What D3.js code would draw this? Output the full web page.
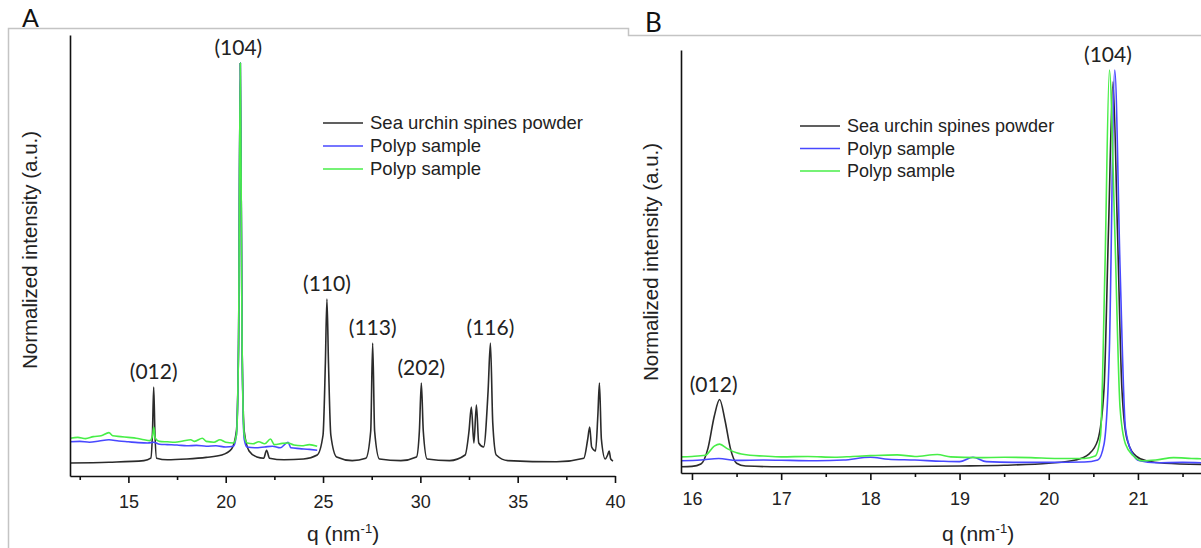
<!DOCTYPE html>
<html>
<head>
<meta charset="utf-8">
<script src="https://cdn.jsdelivr.net/npm/d3@7/dist/d3.min.js"></script>
<style>
  body { margin: 0; background: #fff; }
  svg { display: block; }
  .tick text { font-family: "Liberation Sans", Arial, sans-serif; font-size: 18px; fill: #222; }
</style>
</head>
<body>
<div id="chart"></div>
<script>
// ---- data (q in nm^-1, intensity normalised to the (104) peak) ----
const seriesNames = ['Sea urchin spines powder', 'Polyp sample', 'Polyp sample'];
const seriesColors = ['#2b2b2b', '#4848ff', '#48ee48'];

// panel A : wide range
const blackA = [
  [12.0,0.0],[14.0,0.002],[15.8,0.006],[16.15,0.012],[16.24,0.08],[16.3,0.19],[16.36,0.08],[16.45,0.012],
  [17.0,0.008],[18.0,0.01],[19.0,0.014],[19.8,0.02],[20.3,0.035],[20.55,0.08],[20.66,0.3],[20.75,1.0],
  [20.84,0.3],[20.95,0.08],[21.2,0.03],[21.6,0.015],[21.95,0.012],[22.1,0.032],[22.25,0.012],[23.0,0.008],
  [24.0,0.01],[24.7,0.02],[25.0,0.07],[25.12,0.25],[25.2,0.41],[25.28,0.25],[25.4,0.07],[25.7,0.015],
  [26.5,0.006],[27.2,0.012],[27.45,0.08],[27.55,0.30],[27.65,0.08],[27.9,0.01],[29.0,0.006],[29.8,0.015],
  [29.95,0.08],[30.05,0.20],[30.15,0.08],[30.35,0.01],[31.5,0.006],[32.3,0.02],[32.5,0.08],[32.62,0.14],
  [32.75,0.05],[32.88,0.145],[33.0,0.05],[33.25,0.04],[33.48,0.18],[33.6,0.30],[33.72,0.1],[33.9,0.02],
  [34.5,0.006],[37.0,0.003],[38.4,0.012],[38.6,0.06],[38.7,0.09],[38.8,0.04],[39.0,0.03],[39.12,0.12],
  [39.2,0.20],[39.3,0.06],[39.5,0.01],[39.62,0.02],[39.7,0.03],[39.78,0.01],[39.9,0.005]
];
const blueA = [
  [12.0,0.053],[12.5,0.054],[13.0,0.052],[13.5,0.055],[14.0,0.058],[14.5,0.055],[15.0,0.053],[15.5,0.051],
  [16.0,0.05],[16.3,0.052],[16.6,0.047],[17.0,0.046],[17.5,0.045],[18.0,0.043],[18.5,0.044],[19.0,0.042],
  [19.5,0.043],[20.0,0.04],[20.4,0.042],[20.55,0.07],[20.66,0.3],[20.75,1.0],[20.84,0.3],[20.95,0.06],
  [21.1,0.04],[21.5,0.038],[22.0,0.04],[22.4,0.042],[22.8,0.038],[23.2,0.052],[23.35,0.038],[23.8,0.036],
  [24.3,0.034],[24.7,0.032]
];
const greenA = [
  [12.0,0.062],[12.4,0.064],[12.8,0.061],[13.2,0.066],[13.6,0.068],[14.0,0.076],[14.2,0.068],[14.6,0.066],
  [15.0,0.064],[15.4,0.062],[15.8,0.058],[16.1,0.056],[16.25,0.07],[16.3,0.09],[16.38,0.062],[16.6,0.054],
  [17.0,0.053],[17.4,0.052],[17.8,0.055],[18.2,0.058],[18.4,0.054],[18.8,0.062],[19.0,0.054],[19.4,0.052],
  [19.7,0.058],[20.0,0.052],[20.4,0.05],[20.55,0.07],[20.66,0.3],[20.75,1.0],[20.84,0.3],[20.95,0.07],
  [21.1,0.05],[21.4,0.048],[21.7,0.053],[22.0,0.048],[22.3,0.06],[22.5,0.046],[22.9,0.049],[23.2,0.05],
  [23.5,0.045],[23.9,0.043],[24.3,0.046],[24.7,0.042]
];

// panel B : zoom on (012) and (104)
const blackB = [
  [15.88,0.003],[16.0,0.004],[16.1,0.01],[16.18,0.05],[16.25,0.13],[16.31,0.172],[16.37,0.12],[16.43,0.05],
  [16.5,0.012],[16.6,0.005],[17.0,0.003],[18.0,0.003],[19.0,0.005],[19.5,0.007],[20.0,0.012],[20.3,0.02],
  [20.45,0.035],[20.55,0.07],[20.62,0.2],[20.67,0.6],[20.72,0.97],[20.77,0.6],[20.82,0.2],[20.88,0.07],
  [20.98,0.03],[21.1,0.018],[21.3,0.012],[21.71,0.009]
];
const blueB = [
  [15.88,0.018],[16.1,0.02],[16.3,0.024],[16.5,0.019],[16.8,0.02],[17.1,0.019],[17.4,0.018],[17.7,0.02],
  [18.0,0.027],[18.2,0.022],[18.5,0.02],[18.8,0.017],[19.0,0.016],[19.15,0.027],[19.3,0.016],[19.6,0.014],
  [20.0,0.014],[20.4,0.015],[20.55,0.02],[20.62,0.06],[20.68,0.3],[20.74,1.0],[20.8,0.5],[20.86,0.1],
  [20.93,0.04],[21.02,0.018],[21.2,0.013],[21.5,0.014],[21.71,0.013]
];
const greenB = [
  [15.88,0.028],[16.0,0.029],[16.15,0.032],[16.25,0.055],[16.31,0.06],[16.4,0.048],[16.5,0.038],[16.65,0.032],
  [16.8,0.03],[17.0,0.028],[17.3,0.029],[17.6,0.027],[17.8,0.029],[18.0,0.031],[18.3,0.033],[18.5,0.029],
  [18.75,0.034],[18.9,0.028],[19.2,0.026],[19.5,0.027],[19.8,0.026],[20.1,0.024],[20.4,0.024],[20.52,0.03],
  [20.58,0.08],[20.63,0.5],[20.68,1.0],[20.74,0.6],[20.8,0.15],[20.86,0.06],[20.95,0.03],[21.05,0.018],
  [21.2,0.02],[21.4,0.026],[21.6,0.024],[21.71,0.023]
];

// peak labels: [text, q, intensity of the peak]
const peaksA = [['(012)',16.3,0.19],['(104)',20.75,1.0],['(110)',25.2,0.41],['(113)',27.55,0.30],['(202)',30.05,0.20],['(116)',33.6,0.30]];
const peaksB = [['(012)',16.31,0.172],['(104)',20.72,1.0]];

const ticksA = [15, 20, 25, 30, 35, 40];
const minorA = [12.5, 17.5, 22.5, 27.5, 32.5, 37.5];
const ticksB = [16, 17, 18, 19, 20, 21];
const minorB = [16.5, 17.5, 18.5, 19.5, 20.5, 21.5];

// ---- drawing ----
const W = 1201, H = 548;
const svg = d3.select('#chart').append('svg').attr('width', W).attr('height', H);

// gray frame of the figure
svg.append('path')
  .attr('d', 'M8.5,548 V28.5 H628.5 V35.5 H1201')
  .attr('fill', 'none').attr('stroke', '#c4c4c4').attr('stroke-width', 1.5);

svg.append('text').attr('x', 22).attr('y', 27).text('A')
  .style('font-family', 'Lato, sans-serif').style('font-size', '25px').attr('fill', '#111');
svg.append('text').attr('x', 645).attr('y', 32).text('B')
  .style('font-family', 'Lato, sans-serif').style('font-size', '26px').attr('fill', '#111');

function panel(o) {
  const x = d3.scaleLinear().domain(o.xDom).range(o.xRange);
  const y = d3.scaleLinear().domain(o.yDom).range(o.yRange);
  const g = svg.append('g');

  const clipId = 'clip' + o.id;
  g.append('clipPath').attr('id', clipId).append('rect')
    .attr('x', o.xRange[0]).attr('y', 0).attr('width', o.xRange[1] - o.xRange[0] + 2).attr('height', o.yRange[0]);

  const line = d3.line().x(d => x(d[0])).y(d => y(d[1])).curve(d3.curveMonotoneX);
  o.series.forEach((s, i) => {
    g.append('path').datum(s)
      .attr('clip-path', `url(#${clipId})`)
      .attr('d', line)
      .attr('fill', 'none')
      .attr('stroke', seriesColors[i])
      .attr('stroke-width', 1.6)
      .attr('stroke-linejoin', 'round');
  });

  // x axis : major + minor ticks
  const xa = g.append('g').attr('transform', `translate(0,${o.yRange[0]})`)
    .call(d3.axisBottom(x).tickValues(o.ticks).tickSize(7).tickSizeOuter(0).tickPadding(12).tickFormat(d3.format('d')));
  xa.select('.domain').attr('stroke', '#111').attr('stroke-width', 1.6);
  xa.selectAll('.tick line').attr('stroke', '#111').attr('stroke-width', 1.6);
  const xm = g.append('g').attr('transform', `translate(0,${o.yRange[0]})`)
    .call(d3.axisBottom(x).tickValues(o.minor).tickSize(4).tickFormat(''));
  xm.select('.domain').remove();
  xm.selectAll('.tick line').attr('stroke', '#111').attr('stroke-width', 1.6);

  // y axis : line only
  const ya = g.append('g').attr('transform', `translate(${o.xRange[0]},0)`)
    .call(d3.axisLeft(y).tickValues([]).tickSizeOuter(0));
  ya.select('.domain').attr('stroke', '#111').attr('stroke-width', 1.6);

  // axis titles
  const xt = g.append('text')
    .attr('x', o.xTitleX).attr('y', 541).attr('text-anchor', 'middle')
    .style('font-family', '"Liberation Sans", Arial, sans-serif').style('font-size', '21px').attr('fill', '#222');
  xt.append('tspan').text('q (nm');
  xt.append('tspan').text('-1').attr('dy', -8).style('font-size', '13px');
  xt.append('tspan').text(')').attr('dy', 8);

  g.append('text')
    .attr('transform', `translate(${o.yTitleX},${o.yTitleY}) rotate(-90)`)
    .attr('text-anchor', 'middle').attr('dy', '0.35em')
    .style('font-family', '"Liberation Sans", Arial, sans-serif').style('font-size', '20.5px').attr('fill', '#222')
    .text('Normalized intensity (a.u.)');

  // peak labels
  g.selectAll('text.peak').data(o.peaks).enter().append('text')
    .attr('class', 'peak')
    .attr('x', d => x(d[1]) + (o.labelDx[d[0]] || 0))
    .attr('y', d => y(d[2]) - 8)
    .attr('text-anchor', 'middle')
    .style('font-family', 'Lato, sans-serif').style('font-size', '21px').attr('fill', '#222')
    .text(d => d[0]);

  // legend
  const lg = g.append('g').attr('transform', `translate(${o.legend[0]},${o.legend[1]})`);
  seriesNames.forEach((n, i) => {
    const row = lg.append('g').attr('transform', `translate(0,${i * o.legendStep})`);
    row.append('line').attr('x1', 0).attr('x2', 40).attr('stroke', seriesColors[i]).attr('stroke-width', 1.6);
    row.append('text').attr('x', 47).attr('dy', '0.35em')
      .style('font-family', '"Liberation Sans", Arial, sans-serif').style('font-size', o.legendFont)
      .attr('fill', '#222').text(n);
  });
}

panel({
  id: 'A', xDom: [12, 40], xRange: [70, 615], yDom: [-0.0325, 1.07], yRange: [476, 35],
  series: [blackA, blueA, greenA], ticks: ticksA, minor: minorA, peaks: peaksA,
  labelDx: { '(012)': 0, '(104)': -2 },
  xTitleX: 343, yTitleX: 30, yTitleY: 250,
  legend: [323, 123], legendStep: 23, legendFont: '18.5px'
});

panel({
  id: 'B', xDom: [15.877, 21.707], xRange: [681, 1201], yDom: [-0.0126, 1.0503], yRange: [473, 50],
  series: [blackB, blueB, greenB], ticks: ticksB, minor: minorB, peaks: peaksB,
  labelDx: { '(012)': -6, '(104)': -5 },
  xTitleX: 978, yTitleX: 651, yTitleY: 262,
  legend: [800, 126], legendStep: 22.5, legendFont: '18px'
});
</script>
</body>
</html>
